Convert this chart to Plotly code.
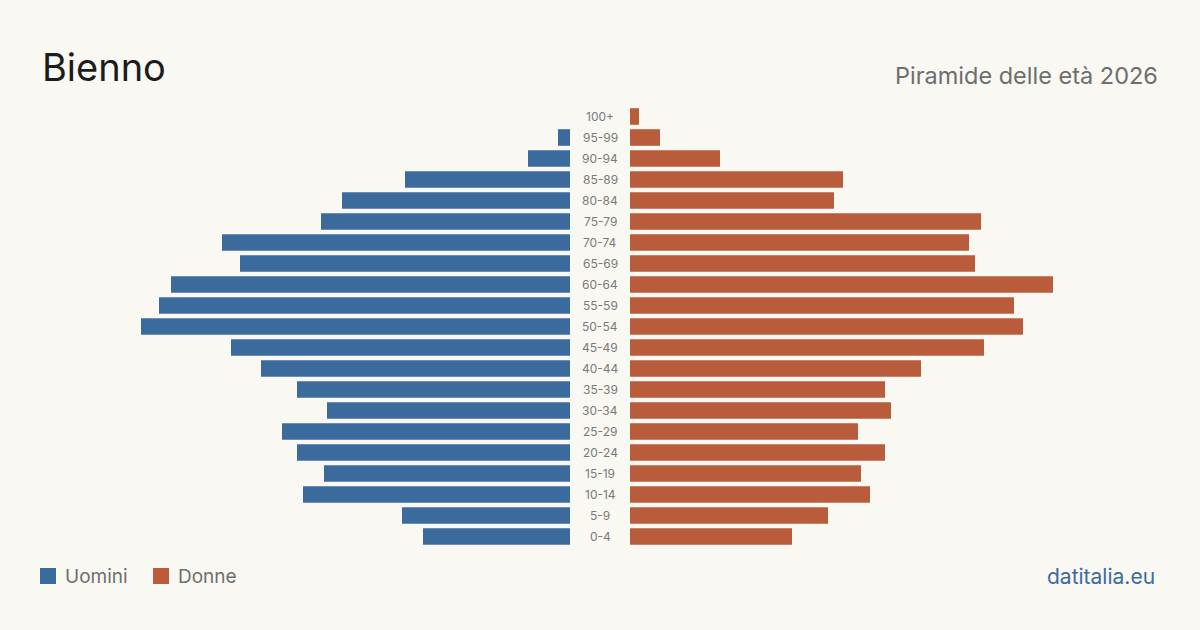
import plotly.graph_objects as go

age_groups = ["100+", "95-99", "90-94", "85-89", "80-84", "75-79", "70-74", "65-69",
              "60-64", "55-59", "50-54", "45-49", "40-44", "35-39", "30-34", "25-29",
              "20-24", "15-19", "10-14", "5-9", "0-4"]
men = [0, 4, 14, 55, 76, 83, 116, 110, 133, 137, 143, 113, 103, 91, 81, 96, 91, 82, 89, 56, 49]
women = [3, 10, 30, 71, 68, 117, 113, 115, 141, 128, 131, 118, 97, 85, 87, 76, 85, 77, 80, 66, 54]

title = "Bienno"
subtitle = "Piramide delle età 2026"
legend_names = ["Uomini", "Donne"]
source = "datitalia.eu"

BLUE = "#3b6b9c"
ORANGE = "#b95c3c"
BG = "#f9f8f3"
FONT = "Inter, Noto Sans, sans-serif"

W, H = 1200, 630
ML, MR, MT, MB = 40, 40, 106, 83
PW = W - ML - MR
PH = H - MT - MB
xmax = 530 / 3.0

fig = go.Figure()
fig.add_trace(go.Bar(y=age_groups, x=men, orientation="h", marker=dict(color=BLUE, line=dict(width=0)),
                     name=legend_names[0], xaxis="x", yaxis="y", showlegend=False,
                     hoverinfo="x+y"))
fig.add_trace(go.Bar(y=age_groups, x=women, orientation="h", marker=dict(color=ORANGE, line=dict(width=0)),
                     name=legend_names[1], xaxis="x2", yaxis="y", showlegend=False,
                     hoverinfo="x+y"))

def px_x(p):
    return (p - ML) / PW

def px_y(p):
    return (H - MB - p) / PH

annotations = []
for g in age_groups:
    annotations.append(dict(x=0.5, y=g, xref="paper", yref="y", text=g, showarrow=False,
                            xanchor="center", yanchor="middle",
                            font=dict(family=FONT, size=12, color="#7a7a7a")))

annotations += [
    dict(x=0, y=px_y(67), xref="paper", yref="paper", text=title, showarrow=False,
         xanchor="left", yanchor="middle", font=dict(family=FONT, size=38, color="#1c1c1c")),
    dict(x=px_x(1160), y=px_y(76), xref="paper", yref="paper", text=subtitle, showarrow=False,
         xanchor="right", yanchor="middle", font=dict(family=FONT, size=23.5, color="#6e6e6e")),
    dict(x=px_x(63), y=px_y(576), xref="paper", yref="paper", text=legend_names[0], showarrow=False,
         xanchor="left", yanchor="middle", font=dict(family=FONT, size=19, color="#6e6e6e")),
    dict(x=px_x(176), y=px_y(576), xref="paper", yref="paper", text=legend_names[1], showarrow=False,
         xanchor="left", yanchor="middle", font=dict(family=FONT, size=19, color="#6e6e6e")),
    dict(x=px_x(1157), y=px_y(576), xref="paper", yref="paper", text=source, showarrow=False,
         xanchor="right", yanchor="middle", font=dict(family=FONT, size=21, color=BLUE)),
]

shapes = [
    dict(type="rect", xref="paper", yref="paper", x0=px_x(40), x1=px_x(56),
         y0=px_y(584), y1=px_y(568), fillcolor=BLUE, line_width=0),
    dict(type="rect", xref="paper", yref="paper", x0=px_x(153), x1=px_x(169),
         y0=px_y(584), y1=px_y(568), fillcolor=ORANGE, line_width=0),
]

fig.update_layout(
    width=W, height=H,
    margin=dict(l=ML, r=MR, t=MT, b=MB, pad=0),
    paper_bgcolor=BG, plot_bgcolor=BG,
    bargap=0.21,
    xaxis=dict(domain=[0, 530 / PW], range=[xmax, 0], visible=False, fixedrange=True),
    xaxis2=dict(domain=[590 / PW, 1], range=[0, xmax], visible=False, fixedrange=True),
    yaxis=dict(categoryorder="array", categoryarray=age_groups[::-1], visible=False,
               autorange=False, range=[-0.5, len(age_groups) - 0.5], fixedrange=True),
    annotations=annotations,
    shapes=shapes,
    showlegend=False,
)

fig.write_html("out.html", config={"displayModeBar": False})
